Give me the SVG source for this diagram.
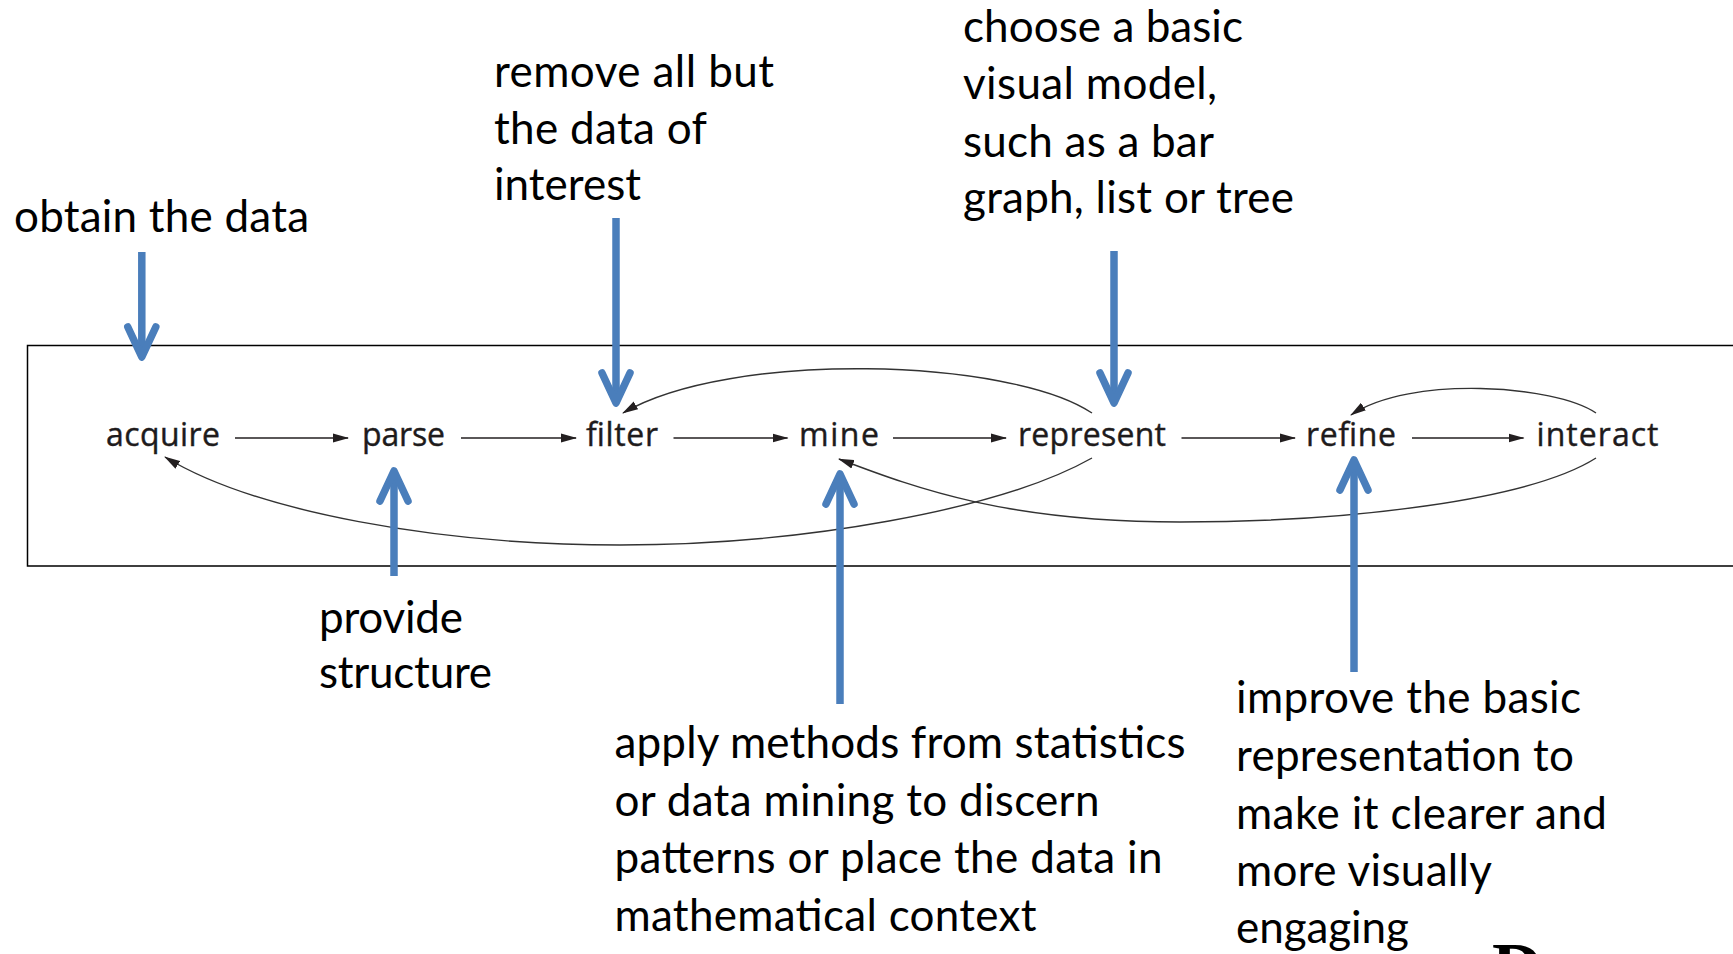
<svg xmlns="http://www.w3.org/2000/svg" width="1733" height="954" viewBox="0 0 1733 954">
<defs>
<style>
.stage{font-family:"Open Sans","Noto Sans",sans-serif;font-size:32px;fill:#1e1b1c;stroke:#1e1b1c;stroke-width:0.4;text-anchor:middle}
.note{font-family:Lato,"Open Sans",sans-serif;font-size:44px;fill:#000}
.flow{fill:none;stroke:#231f20;stroke-width:1.6;marker-end:url(#ah)}
.loop{fill:none;stroke:#333;stroke-width:1.4;marker-end:url(#ah)}
.shaft{fill:none;stroke:#4a7ebb;stroke-width:7.5}
.head{fill:none;stroke:#4a7ebb;stroke-width:7.5;stroke-linecap:round;stroke-linejoin:round}
</style>
<marker id="ah" viewBox="0 0 16 10" refX="15" refY="5" markerWidth="16" markerHeight="10" orient="auto" markerUnits="userSpaceOnUse"><path d="M0,0.5 L16,5 L0,9.5 z" fill="#231f20"/></marker>
</defs>
<rect width="1733" height="954" fill="#fff"/>
<path id="frame" d="M1733,345.5 H27.5 V566 H1733" fill="none" stroke="#000" stroke-width="1.5"/>

<g id="node-acquire"><text class="stage" x="163" y="446" textLength="114">acquire</text></g>
<g id="node-parse"><text class="stage" x="403.5" y="446" textLength="83">parse</text></g>
<g id="node-filter"><text class="stage" x="622" y="446" textLength="72">filter</text></g>
<g id="node-mine"><text class="stage" x="839" y="446" textLength="80">mine</text></g>
<g id="node-represent"><text class="stage" x="1092" y="446" textLength="148">represent</text></g>
<g id="node-refine"><text class="stage" x="1351" y="446" textLength="90">refine</text></g>
<g id="node-interact"><text class="stage" x="1597.5" y="446" textLength="122">interact</text></g>

<g id="note-obtain"><text class="note" x="14" y="232" textLength="295">obtain the data</text></g>
<g id="note-remove">
<text class="note" x="494" y="87" textLength="280">remove all but</text>
<text class="note" x="494" y="144" textLength="213">the data of</text>
<text class="note" x="494" y="200" textLength="147">interest</text>
</g>
<g id="note-choose">
<text class="note" x="963" y="42" textLength="280">choose a basic</text>
<text class="note" x="963" y="99" textLength="254">visual model,</text>
<text class="note" x="963" y="157" textLength="251">such as a bar</text>
<text class="note" x="963" y="213" textLength="331">graph, list or tree</text>
</g>
<g id="note-provide">
<text class="note" x="319" y="633" textLength="144">provide</text>
<text class="note" x="319" y="688" textLength="173">structure</text>
</g>
<g id="note-apply">
<text class="note" x="614.5" y="758" textLength="571">apply methods from statistics</text>
<text class="note" x="614.5" y="816" textLength="485">or data mining to discern</text>
<text class="note" x="614.5" y="873" textLength="548">patterns or place the data in</text>
<text class="note" x="614.5" y="931" textLength="422">mathematical context</text>
</g>
<g id="note-improve">
<text class="note" x="1236" y="713" textLength="345">improve the basic</text>
<text class="note" x="1236" y="771" textLength="338">representation to</text>
<text class="note" x="1236" y="829" textLength="371">make it clearer and</text>
<text class="note" x="1236" y="886" textLength="256">more visually</text>
<text class="note" x="1236" y="943" textLength="173">engaging</text>
</g>
<g id="partial-glyph"><text x="1492" y="991" font-family="Liberation Serif" font-weight="bold" font-size="70" fill="#000">D</text></g>

<g id="connectors">
<path class="flow" d="M235,438 H348"/>
<path class="flow" d="M461,438 H576"/>
<path class="flow" d="M673.5,438 H787.5"/>
<path class="flow" d="M893,438 H1006"/>
<path class="flow" d="M1181.5,438 H1295"/>
<path class="flow" d="M1412,438 H1523.5"/>
<path class="loop" d="M1092,413 C1010,358 730,350 623,413"/>
<path class="loop" d="M1092,458 C1000,510 800,545 620,545 S255,512 165,457"/>
<path class="loop" d="M1596,458 C1530,500 1350,522 1180,522 S920,490 839,459"/>
<path class="loop" d="M1596,413 C1555,385 1410,375 1351,415"/>

<g id="callout-acquire"><path class="shaft" d="M141.8,252 V352"/><path class="head" d="M127.8,327 L141.8,357 L155.8,327"/></g>
<g id="callout-filter"><path class="shaft" d="M616,218 V398"/><path class="head" d="M602,373 L616,403 L630,373"/></g>
<g id="callout-represent"><path class="shaft" d="M1114,251 V398"/><path class="head" d="M1100,373 L1114,403 L1128,373"/></g>
<g id="callout-parse"><path class="shaft" d="M394,576 V476"/><path class="head" d="M380,501 L394,471 L408,501"/></g>
<g id="callout-mine"><path class="shaft" d="M840,704 V479"/><path class="head" d="M826,504 L840,474 L854,504"/></g>
<g id="callout-refine"><path class="shaft" d="M1354,672 V465"/><path class="head" d="M1340,490 L1354,460 L1368,490"/></g>
</g>
</svg>
